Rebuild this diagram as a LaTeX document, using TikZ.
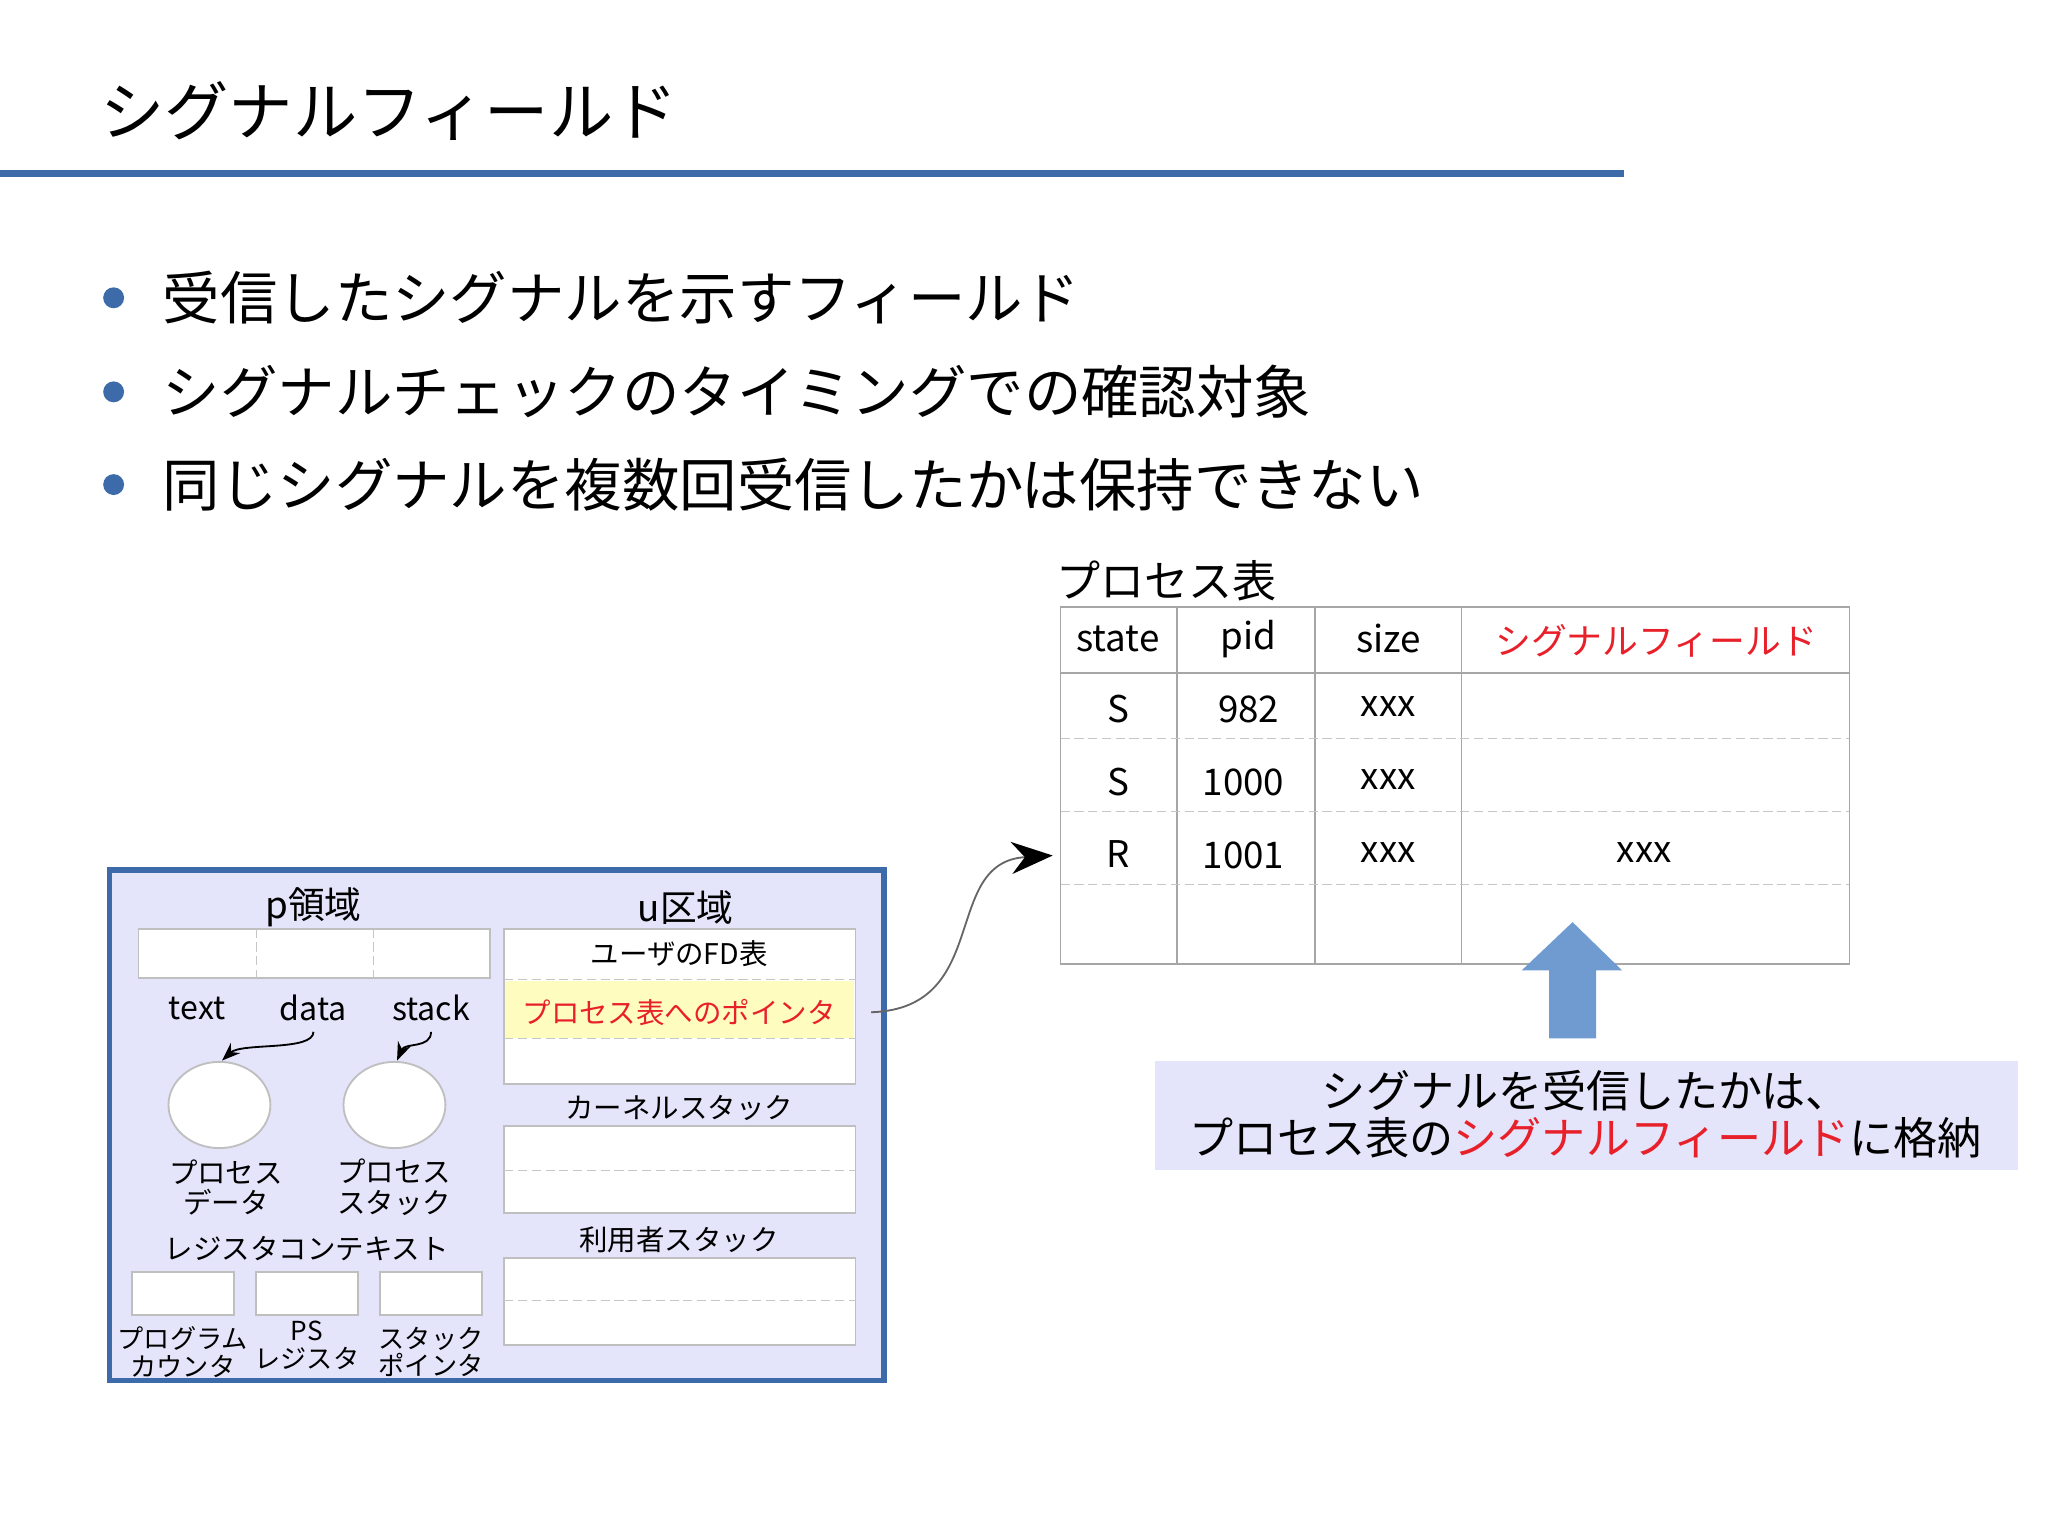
\documentclass[tikz,border=0pt]{standalone}
\usepackage{fontspec}
\setmainfont{Noto Sans CJK JP}
\usetikzlibrary{arrows.meta}
\definecolor{tblue}{HTML}{3D6AA8}
\definecolor{lav}{HTML}{E4E4FA}
\definecolor{abl}{HTML}{6F9BD1}
\definecolor{red}{HTML}{E8202A}
\tikzset{
 lbl/.style={inner sep=0pt,font=\fontsize{8}{9}\selectfont},
 sm/.style={inner sep=0pt,font=\fontsize{5.7}{6}\selectfont,align=center},
 mid/.style={inner sep=0pt,font=\fontsize{6.2}{6.6}\selectfont,align=center},
 wbox/.style={draw=gray!50,fill=white},
 dl/.style={draw=gray!45,dash pattern=on 2pt off 1pt,very thin},
 grid/.style={draw=gray!70,thin}
}
\begin{document}
\begin{tikzpicture}[x=0.01cm,y=-0.01cm]
\useasboundingbox (0,0) rectangle (1568,1175);
\node[anchor=west,inner sep=0pt,font=\fontsize{14}{16}\selectfont] (title) at (76,85) {シグナルフィールド};
\draw[tblue,line width=1.6pt] (0,133) -- (1243,133);
\foreach \y/\t [count=\i] in {228/受信したシグナルを示すフィールド,300/シグナルチェックのタイミングでの確認対象,371/同じシグナルを複数回受信したかは保持できない}{
 \fill[tblue] (87,\y) circle (8);
 \node[anchor=west,inner sep=0pt,font=\fontsize{12.5}{14}\selectfont] (b\i) at (124,\y) {\t};
}
% table
\node[anchor=west,inner sep=0pt,font=\fontsize{9.6}{12}\selectfont] (ptl) at (808,445) {プロセス表};
\draw[grid] (812,465) rectangle (1416,738);
\foreach \x in {901,1007,1119} \draw[grid] (\x,465) -- (\x,738);
\draw[grid] (812,515) -- (1416,515);
\foreach \y in {565,621,677} \draw[dl] (812,\y) -- (1416,\y);
\node[lbl] (h1) at (856,489) {state};
\node[lbl] (h2) at (956,489) {pid};
\node[lbl] (h3) at (1063,489) {size};
\node[lbl,text=red,font=\fontsize{7.8}{9}\selectfont] (h4) at (1268,491) {シグナルフィールド};
\node[lbl] at (856,543) {S}; \node[lbl] at (956,543) {982}; \node[lbl] at (1063,541) {xxx};
\node[lbl] at (856,599) {S}; \node[lbl] at (952,599) {1000}; \node[lbl] at (1063,597) {xxx};
\node[lbl] at (856,654) {R}; \node[lbl] at (952,655) {1001}; \node[lbl] at (1063,653) {xxx}; \node[lbl] at (1259,653) {xxx};
\coordinate (rowR) at (806,655);
% blue arrow
\fill[abl] (1186,795) -- (1186,743) -- (1165,743) -- (1204,706) -- (1242,743) -- (1222,743) -- (1222,795) -- cycle;
\fill[lav] (884,812) rectangle (1545,896);
\node[inner sep=0pt,align=center,font=\fontsize{9.6}{10.4}\selectfont] (note) at (1214,853) {シグナルを受信したかは、\\プロセス表の\textcolor{red}{シグナルフィールド}に格納};
% left box
\draw[tblue,line width=1.2pt,fill=lav] (84,666) rectangle (677,1057);
\node[lbl] (pr) at (240,695) {p領域};
\node[lbl] (ur) at (525,695) {u区域};
\draw[wbox] (106,711) rectangle (375,749);
\foreach \x in {196,286} \draw[dl] (\x,711) -- (\x,749);
\node[lbl,font=\fontsize{7}{8}\selectfont] (tx) at (151,772) {text};
\node[lbl,font=\fontsize{7}{8}\selectfont] (da) at (240,772) {data};
\node[lbl,font=\fontsize{7}{8}\selectfont] (st) at (330,772) {stack};
\draw[wbox] (168,846) ellipse (39 and 33);
\draw[wbox] (302,846) ellipse (39 and 33);
\coordinate (e1) at (170,812); \coordinate (e2) at (304,812);
\draw[-{Stealth[length=4pt]},thin] (240,790) .. controls (240,805) and (185,798) .. (e1);
\draw[-{Stealth[length=4pt]},thin] (330,790) .. controls (330,803) and (310,798) .. (e2);
\node[mid] at (173,909) {プロセス\\データ};
\node[mid] at (302,909) {プロセス\\スタック};
\node[mid] at (235,956) {レジスタコンテキスト};
\foreach \x in {101,196,291} \draw[wbox] (\x,974) rectangle ++(78,33);
\node[sm] at (140,1035) {プログラム\\カウンタ};
\node[sm] at (235,1030) {PS\\レジスタ};
\node[sm] at (330,1035) {スタック\\ポインタ};
% u region
\draw[wbox] (386,711) rectangle (655,830);
\fill[yellow!25] (387,751) rectangle (654,795);
\draw[dl] (386,750) -- (655,750); \draw[dl] (386,795) -- (655,795);
\node[mid] at (520,730) {ユーザのFD表};
\node[mid,text=red] (ptr) at (520,775) {プロセス表へのポインタ};
\node[mid] at (520,848) {カーネルスタック};
\draw[wbox] (386,862) rectangle (655,929); \draw[dl] (386,896) -- (655,896);
\node[mid] at (520,949) {利用者スタック};
\draw[wbox] (386,963) rectangle (655,1030); \draw[dl] (386,996) -- (655,996);
\coordinate (pe) at (667,775);
\draw[gray!80!black,thin,-{Stealth[length=9pt,width=7pt,black]}] (pe) .. controls (760,772) and (720,660) .. (rowR);
\end{tikzpicture}
\end{document}
